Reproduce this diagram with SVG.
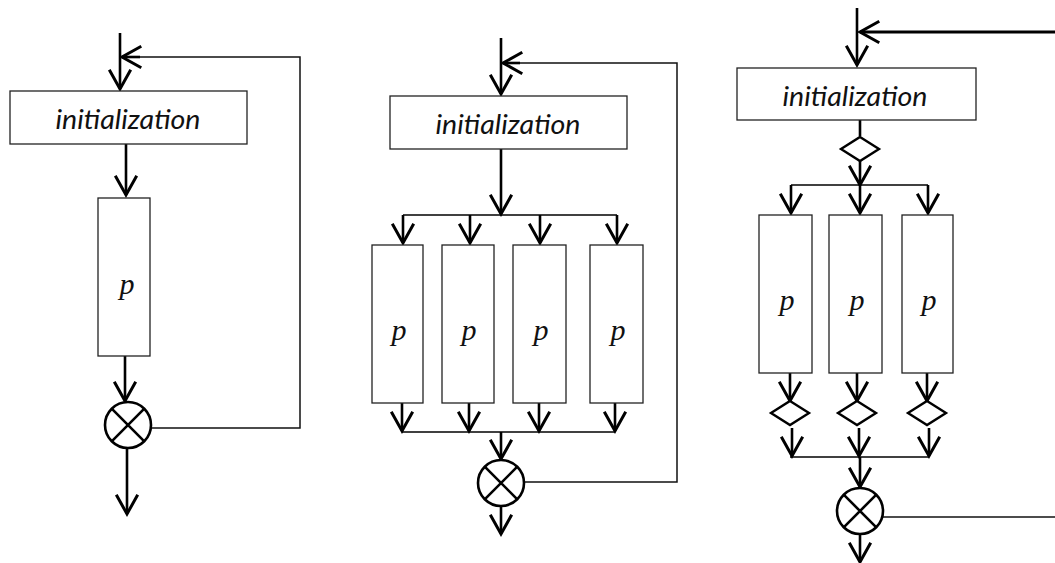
<svg xmlns="http://www.w3.org/2000/svg" width="1055" height="563" viewBox="0 0 1055 563">
  <style>
    .box { fill: #fff; stroke: #222; stroke-width: 1.3; }
    .init { font-family: Lato, "Liberation Sans", sans-serif; font-style: italic; font-weight: 400; font-size: 27px; fill: #111; text-anchor: middle; }
    .var { font-family: "Liberation Serif", serif; font-style: italic; font-size: 30px; fill: #111; text-anchor: middle; }
    .arrow { fill: none; stroke: #000; stroke-width: 2.6; marker-end: url(#vhead); }
    .line { fill: none; stroke: #000; stroke-width: 1.6; }
    .thin { fill: none; stroke: #111; stroke-width: 1.5; }
    .xor { fill: #fff; stroke: #000; stroke-width: 2.6; }
    .dia { fill: #fff; stroke: #000; stroke-width: 2.4; }
  </style>
  <defs>
    <marker id="vhead" markerUnits="userSpaceOnUse" orient="auto" refX="0" refY="0" markerWidth="30" markerHeight="30" viewBox="-22 -14 26 28" overflow="visible">
      <path d="M-18,-10 L0,0 L-18,10" fill="none" stroke="#000" stroke-width="2.8" stroke-linejoin="miter"/>
    </marker>
    <g id="xsym">
      <circle r="23" class="xor"/>
      <path d="M-16.3,-16.3 L16.3,16.3 M16.3,-16.3 L-16.3,16.3" stroke="#000" stroke-width="2.6"/>
    </g>
  </defs>

  <!-- connectors -->
  <g id="connectors">
    <!-- sequential loop -->
    <path class="arrow" d="M120,33 L120,89"/>
    <path class="thin" d="M151,428 L300,428 L300,57 L135,57"/>
    <path class="arrow" d="M140,57 L122,57"/>
    <path class="arrow" d="M126,144 L126,195"/>
    <path class="arrow" d="M125,356 L125,401"/>
    <path class="arrow" d="M127,448 L127,514"/>

    <!-- parallel loop -->
    <path class="arrow" d="M501,38 L501,94"/>
    <path class="thin" d="M524,482 L677,482 L677,63 L515,63"/>
    <path class="arrow" d="M520,63 L503,63"/>
    <path class="arrow" d="M501,149 L501,214"/>
    <path class="line" d="M403,215 L617,215"/>
    <path class="arrow" d="M403,215 L403,243"/>
    <path class="arrow" d="M470,215 L470,243"/>
    <path class="arrow" d="M540,215 L540,243"/>
    <path class="arrow" d="M617,215 L617,243"/>
    <path class="arrow" d="M402,403 L402,431"/>
    <path class="arrow" d="M469,403 L469,431"/>
    <path class="arrow" d="M539,403 L539,431"/>
    <path class="arrow" d="M615,403 L615,431"/>
    <path class="line" d="M402,432 L615,432"/>
    <path class="arrow" d="M501,432 L501,459"/>
    <path class="arrow" d="M501,507 L501,534"/>

    <!-- guarded parallel loop -->
    <path class="arrow" d="M857,8 L857,65"/>
    <path class="arrow" d="M1055,32 L860,32" style="stroke-width:3"/>
    <path class="arrow" d="M860,120 L860,136" style="marker-end:none"/>
    <path class="arrow" d="M860,161 L860,185"/>
    <path class="line" d="M791,185 L928,185"/>
    <path class="arrow" d="M791,185 L791,213"/>
    <path class="arrow" d="M860,185 L860,213"/>
    <path class="arrow" d="M928,185 L928,213"/>
    <path class="arrow" d="M790,373 L790,401"/>
    <path class="arrow" d="M857,373 L857,401"/>
    <path class="arrow" d="M927,373 L927,401"/>
    <path class="arrow" d="M792,428 L792,456"/>
    <path class="arrow" d="M859,428 L859,456"/>
    <path class="arrow" d="M929,428 L929,456"/>
    <path class="line" d="M790,457 L929,457"/>
    <path class="arrow" d="M860,457 L860,487"/>
    <path class="thin" d="M883,517 L1055,517"/>
    <path class="arrow" d="M860,535 L860,562"/>
  </g>

  <!-- sequential loop nodes -->
  <g id="seq-init">
    <rect class="box" x="10" y="91" width="237" height="53"/>
    <text class="init" x="128" y="129" textLength="145" lengthAdjust="spacingAndGlyphs">initialization</text>
  </g>
  <g id="seq-p">
    <rect class="box" x="98" y="198" width="52" height="158"/>
    <text class="var" x="127" y="294">p</text>
  </g>
  <g id="seq-merge">
    <use href="#xsym" x="128" y="425"/>
  </g>

  <!-- parallel loop nodes -->
  <g id="par-init">
    <rect class="box" x="390" y="96" width="237" height="53"/>
    <text class="init" x="508" y="134" textLength="145" lengthAdjust="spacingAndGlyphs">initialization</text>
  </g>
  <g id="par-p1">
    <rect class="box" x="372" y="245" width="51" height="158"/>
    <text class="var" x="399" y="340">p</text>
  </g>
  <g id="par-p2">
    <rect class="box" x="442" y="245" width="52" height="158"/>
    <text class="var" x="469" y="340">p</text>
  </g>
  <g id="par-p3">
    <rect class="box" x="513" y="245" width="53" height="158"/>
    <text class="var" x="541" y="340">p</text>
  </g>
  <g id="par-p4">
    <rect class="box" x="590" y="245" width="53" height="158"/>
    <text class="var" x="618" y="340">p</text>
  </g>
  <g id="par-merge">
    <use href="#xsym" x="501" y="483"/>
  </g>

  <!-- guarded parallel loop nodes -->
  <g id="grd-init">
    <rect class="box" x="737" y="68" width="239" height="52"/>
    <text class="init" x="855" y="106" textLength="145" lengthAdjust="spacingAndGlyphs">initialization</text>
  </g>
  <g id="grd-split">
    <polygon class="dia" points="860,137 879,149 860,161 841,149"/>
  </g>
  <g id="grd-p1">
    <rect class="box" x="759" y="215" width="53" height="158"/>
    <text class="var" x="787" y="310">p</text>
  </g>
  <g id="grd-p2">
    <rect class="box" x="829" y="215" width="53" height="158"/>
    <text class="var" x="857" y="310">p</text>
  </g>
  <g id="grd-p3">
    <rect class="box" x="902" y="215" width="51" height="158"/>
    <text class="var" x="929" y="310">p</text>
  </g>
  <g id="grd-check1">
    <polygon class="dia" points="790,401 809,413 790,425 771,413"/>
  </g>
  <g id="grd-check2">
    <polygon class="dia" points="857,401 876,413 857,425 838,413"/>
  </g>
  <g id="grd-check3">
    <polygon class="dia" points="927,401 946,413 927,425 908,413"/>
  </g>
  <g id="grd-merge">
    <use href="#xsym" x="860" y="511"/>
  </g>
</svg>
